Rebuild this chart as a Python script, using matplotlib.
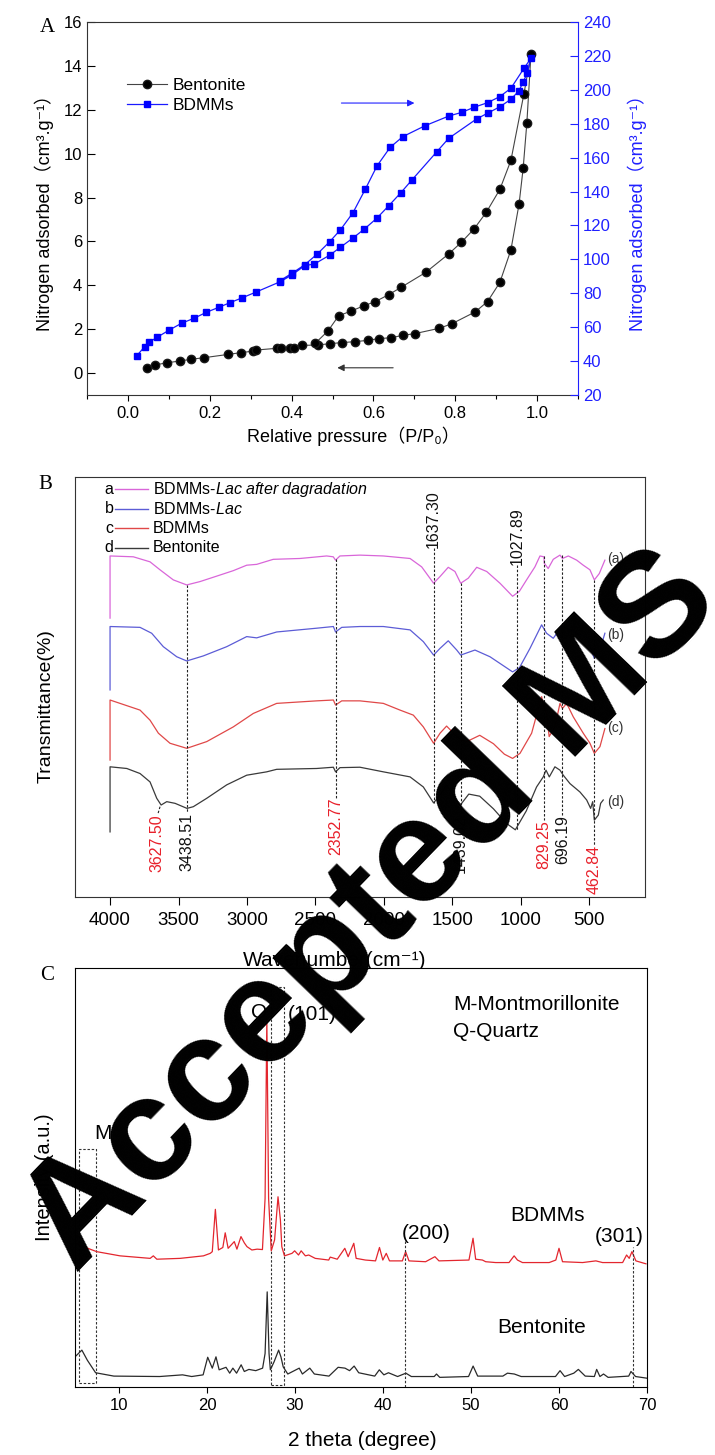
import numpy as np
import matplotlib
matplotlib.use('Agg')
import matplotlib.pyplot as plt
from matplotlib.patches import Rectangle
from matplotlib.ticker import MultipleLocator, FormatStrFormatter

plt.rcParams['font.family'] = ['Liberation Sans', 'Noto Sans CJK SC', 'DejaVu Sans']
plt.rcParams['mathtext.fontset'] = 'custom'
plt.rcParams['mathtext.rm'] = 'Liberation Sans'
plt.rcParams['mathtext.it'] = 'Liberation Sans:italic'

# ---------------- A: N2 adsorption / desorption isotherms ----------------
bent_ads_p = [0.046, 0.066, 0.096, 0.127, 0.155, 0.186, 0.245, 0.276, 0.306, 0.314, 0.365, 0.375,
              0.397, 0.405, 0.426, 0.464, 0.494, 0.524, 0.554, 0.586, 0.613, 0.643, 0.672, 0.702,
              0.761, 0.792, 0.849, 0.879, 0.909, 0.936, 0.956, 0.966, 0.975, 0.985]
bent_ads_v = [0.24, 0.37, 0.47, 0.55, 0.63, 0.70, 0.85, 0.93, 1.00, 1.05, 1.13, 1.13,
              1.16, 1.16, 1.26, 1.28, 1.34, 1.39, 1.43, 1.49, 1.57, 1.61, 1.72, 1.80,
              2.04, 2.25, 2.79, 3.26, 4.13, 5.61, 7.71, 9.34, 11.40, 14.52]
bent_des_p = [0.968, 0.936, 0.909, 0.876, 0.846, 0.815, 0.784, 0.728, 0.667, 0.637, 0.605,
              0.576, 0.546, 0.515, 0.489, 0.458]
bent_des_v = [12.74, 9.69, 8.37, 7.33, 6.57, 5.96, 5.43, 4.59, 3.90, 3.57, 3.26,
              3.06, 2.83, 2.61, 1.92, 1.36]

bdmm_ads_p = [0.021, 0.041, 0.052, 0.071, 0.101, 0.131, 0.161, 0.192, 0.222, 0.249, 0.280, 0.312,
              0.372, 0.401, 0.432, 0.456, 0.494, 0.519, 0.549, 0.578, 0.608, 0.637, 0.667, 0.694,
              0.755, 0.784, 0.852, 0.879, 0.909, 0.936, 0.956, 0.966, 0.976, 0.985]
bdmm_ads_v = [43.0, 48.5, 51.1, 54.0, 58.3, 62.3, 65.2, 68.8, 71.7, 74.4, 77.4, 80.6,
              86.8, 90.8, 96.3, 97.3, 102.6, 107.1, 112.4, 117.9, 124.2, 131.5, 139.3, 146.8,
              163.5, 171.4, 182.8, 186.2, 190.0, 194.4, 199.5, 204.8, 209.7, 218.6]
bdmm_des_p = [0.968, 0.936, 0.909, 0.879, 0.846, 0.816, 0.785, 0.726, 0.672, 0.641, 0.609,
              0.580, 0.550, 0.519, 0.493, 0.463, 0.432, 0.401, 0.372]
bdmm_des_v = [212.7, 200.9, 196.0, 192.4, 189.7, 186.7, 184.6, 178.8, 172.4, 166.1, 155.2,
              141.3, 127.5, 117.3, 110.4, 103.2, 96.8, 91.8, 87.5]

# ---------------- B: FTIR spectra (offset, arbitrary units) ----------------
ftir_a_wn = [4000, 4000, 3830, 3708, 3635, 3538, 3440, 3343, 3221, 3100, 3002, 2929, 2808, 2613,
             2418, 2370, 2353, 2321, 2175, 2004, 1809, 1724, 1637, 1590, 1530, 1481, 1439, 1384,
             1322, 1249, 1152, 1060, 1010, 958, 897, 860, 831, 829, 800, 763, 714, 696, 653,
             592, 544, 495, 463, 427, 386]
ftir_a_t = [66.4, 81.2, 81.0, 79.8, 77.9, 75.5, 74.3, 75.1, 76.4, 77.7, 79.0, 79.2, 80.4, 80.6,
            81.2, 81.0, 80.2, 81.2, 81.4, 81.2, 80.6, 78.6, 74.7, 76.3, 78.5, 77.5, 74.7, 75.9,
            78.5, 77.5, 74.7, 71.6, 72.8, 75.5, 78.6, 81.2, 81.0, 79.5, 78.2, 80.4, 81.4, 80.6, 81.2,
            80.2, 79.0, 77.9, 75.5, 77.0, 80.2]

ftir_b_wn = [4000, 4000, 3781, 3696, 3611, 3513, 3440, 3319, 3148, 3002, 2929, 2783, 2491, 2369,
             2353, 2308, 2175, 2004, 1809, 1712, 1637, 1590, 1530, 1468, 1439, 1335, 1225, 1060,
             1010, 933, 848, 812, 763, 702, 665, 592, 520, 463, 422, 386]
ftir_b_t = [49.3, 64.4, 64.2, 62.8, 59.6, 57.2, 56.2, 57.4, 59.6, 62.0, 61.7, 63.1, 64.0, 64.4,
            63.1, 64.2, 64.4, 64.4, 63.6, 60.8, 57.6, 59.2, 61.0, 58.8, 57.6, 58.8, 57.2, 53.6,
            54.6, 59.2, 64.8, 62.8, 61.6, 64.4, 64.0, 62.8, 62.0, 56.8, 58.8, 62.8]

ftir_c_wn = [4000, 4000, 3927, 3781, 3708, 3647, 3562, 3440, 3294, 3100, 2954, 2783, 2491, 2369,
             2353, 2308, 2175, 2004, 1882, 1785, 1712, 1637, 1590, 1542, 1468, 1439, 1395, 1300,
             1200, 1120, 1060, 1006, 921, 848, 829, 812, 793, 751, 714, 696, 665, 617, 544, 495,
             463, 422, 386]
ftir_c_t = [32.6, 46.9, 46.1, 44.5, 42.1, 39.0, 36.6, 35.4, 37.0, 40.5, 43.7, 46.1, 46.7, 46.9,
            45.7, 46.7, 46.7, 46.1, 44.5, 43.3, 40.5, 36.6, 39.0, 40.7, 38.2, 37.4, 37.0, 38.5,
            36.5, 34.0, 33.0, 34.2, 39.0, 47.7, 45.0, 43.7, 38.2, 40.5, 46.1, 44.9, 46.1, 42.9,
            39.0, 36.6, 34.2, 35.8, 40.1]

ftir_d_wn = [4000, 4000, 3878, 3781, 3708, 3659, 3627, 3586, 3525, 3438, 3392, 3294, 3148, 3002,
             2856, 2783, 2491, 2369, 2353, 2321, 2175, 2004, 1809, 1712, 1637, 1590, 1542, 1480,
             1439, 1380, 1300, 1200, 1104, 1040, 960, 885, 836, 816, 792, 751, 714, 690, 641,
             568, 519, 490, 475, 463, 434, 417, 398]
ftir_d_t = [15.5, 31.0, 30.6, 29.4, 27.4, 23.5, 21.9, 22.7, 22.3, 21.1, 21.5, 23.5, 26.7, 29.0,
            29.8, 30.4, 30.6, 30.9, 29.8, 30.8, 30.9, 29.8, 28.6, 26.2, 22.4, 24.3, 26.7, 23.5,
            22.0, 24.5, 24.0, 21.0, 17.5, 16.0, 20.5, 26.2, 28.6, 30.2, 28.6, 31.0, 30.2, 29.0, 27.0,
            25.0, 23.1, 21.1, 22.7, 18.3, 19.5, 22.3, 23.1]

ftir_peaks = [3627.50, 3438.51, 2352.77, 1637.30, 1439.02, 1027.89, 829.25, 696.19, 462.84]
ftir_peak_colors = ['#e8202a', '#111111', '#e8202a', '#111111', '#111111', '#111111',
                    '#e8202a', '#111111', '#e8202a']

# ---------------- C: XRD patterns ----------------
xrd_bdmm_2t = [5.19, 5.95, 7.47, 10.12, 13.54, 13.9, 14.3, 16.95, 19.6, 20.37, 20.6, 20.95, 21.3,
               21.8, 22.07, 22.4, 23.1, 23.4, 23.86, 24.24, 24.54, 25.1, 25.7, 26.3, 26.6, 26.8,
               27.0, 27.3, 27.68, 28.07, 28.34, 28.5, 28.8, 29.66, 29.96, 30.4, 30.7, 31.18, 31.56,
               32.3, 33.83, 34.0, 34.8, 35.66, 36.04, 36.68, 36.95, 38.0, 39.15, 39.6, 39.98, 40.37,
               40.74, 42.2, 42.57, 42.95, 44.84, 45.9, 46.36, 49.77, 50.23, 50.53, 51.3, 51.67,
               52.8, 54.32, 54.9, 55.28, 55.85, 58.88, 59.64, 60.0, 60.4, 62.68, 64.19, 64.95,
               67.23, 67.68, 67.98, 68.29, 68.74, 69.88]
xrd_bdmm_i = [34.3, 33.5, 32.3, 31.3, 30.7, 31.3, 30.5, 30.7, 31.3, 31.9, 32.3, 42.4, 32.7,
              33.3, 36.8, 33.1, 34.7, 32.9, 35.9, 34.4, 33.5, 32.7, 32.9, 32.8, 45.0, 88.0,
              45.0, 32.5, 35.1, 45.4, 39.9, 33.5, 31.3, 31.9, 32.5, 31.5, 32.5, 31.3, 31.5,
              30.7, 30.3, 31.0, 30.5, 33.1, 31.1, 34.3, 30.7, 30.3, 30.1, 33.3, 30.3, 31.9,
              30.1, 30.1, 32.3, 30.1, 29.9, 31.1, 30.1, 30.3, 35.5, 30.5, 30.3, 29.9,
              29.7, 29.7, 31.3, 30.3, 29.7, 29.7, 30.3, 33.1, 29.9, 29.7, 30.1, 29.7,
              29.7, 31.5, 30.7, 32.3, 30.1, 29.4]

xrd_bent_2t = [5.0, 5.78, 6.4, 7.34, 9.42, 14.62, 17.22, 18.26, 19.56, 20.08, 20.6, 21.02, 21.38,
               22.16, 22.58, 22.94, 23.36, 23.88, 24.24, 24.76, 25.54, 26.32, 26.6, 26.84, 27.05,
               27.2, 27.62, 28.14, 28.4, 28.66, 29.18, 30.48, 30.84, 31.68, 32.2, 33.86, 34.9,
               35.68, 36.2, 36.72, 37.24, 39.06, 39.58, 40.1, 40.62, 41.66, 42.6, 43.22, 45.82,
               46.08, 46.45, 49.72, 50.24, 50.76, 53.62, 54.14, 54.92, 55.7, 59.6, 60.12, 60.64,
               61.68, 62.2, 62.98, 64.02, 64.28, 64.65, 65.06, 65.58, 67.92, 68.18, 68.7, 70.0]
xrd_bent_i = [7.2, 8.8, 6.4, 3.4, 2.6, 2.5, 2.9, 2.5, 2.9, 7.1, 4.5, 7.2, 4.1,
              4.7, 3.3, 4.5, 3.3, 5.3, 3.7, 4.2, 3.9, 4.5, 8.0, 22.7, 8.0,
              4.1, 6.0, 8.8, 7.2, 4.8, 3.1, 4.5, 3.1, 4.5, 3.1, 2.6, 4.7,
              4.5, 3.9, 5.0, 3.4, 2.6, 4.1, 2.9, 3.4, 2.5, 3.3, 2.5, 2.5,
              3.1, 2.3, 2.5, 5.0, 2.6, 2.6, 3.3, 3.1, 2.5, 2.5, 3.9, 2.5,
              3.3, 4.2, 2.6, 2.5, 4.2, 2.5, 3.1, 2.3, 2.6, 3.7, 2.5, 2.1]

fig = plt.figure(figsize=(7.15, 14.55), dpi=100)
dash = (0, (2.2, 1.6))

# ======================= panel A =======================
axA = fig.add_axes([87 / 715, 1 - 395 / 1455, 491 / 715, 373 / 1455])
axA2 = axA.twinx()

l1, = axA.plot(bent_ads_p + bent_des_p, bent_ads_v + bent_des_v, '-o', color='#444444', lw=0.8,
               ms=6.0, mfc='black', mec='#1a1a1a', label='Bentonite')
l2, = axA2.plot(bdmm_ads_p + bdmm_des_p, bdmm_ads_v + bdmm_des_v, '-s', color='#1a1aff', lw=0.9,
                ms=5.0, mfc='#0000ff', mec='#0000ff', label='BDMMs')

axA.set_xlim(-0.1, 1.1)
axA.set_ylim(-1, 16)
axA2.set_ylim(20, 240)
axA.xaxis.set_major_locator(MultipleLocator(0.2))
axA.xaxis.set_minor_locator(MultipleLocator(0.1))
axA.xaxis.set_major_formatter(FormatStrFormatter('%.1f'))
axA.yaxis.set_major_locator(MultipleLocator(2))
axA2.yaxis.set_major_locator(MultipleLocator(20))
axA.tick_params(axis='x', which='major', direction='out', length=4, width=0.8, labelsize=12, pad=4)
axA.tick_params(axis='x', which='minor', direction='out', length=3, width=0.8)
axA.tick_params(axis='y', direction='in', length=6, width=0.8, labelsize=12, right=False)
axA2.tick_params(axis='y', direction='in', length=6, width=0.8, labelsize=12, colors='#2020ff')
axA.spines['right'].set_visible(False)
for s in ['top', 'left', 'bottom']:
    axA.spines[s].set_color('#333333')
    axA2.spines[s].set_visible(False)
axA2.spines['right'].set_color('#2020ff')

axA.set_ylabel('Nitrogen adsorbed（cm³.g⁻¹）', fontsize=13)
axA.yaxis.set_label_coords(-0.068, 0.5)
axA2.set_ylabel('Nitrogen adsorbed（cm³.g⁻¹）', fontsize=13, color='#2020ff', rotation=90)
axA2.yaxis.set_label_coords(1.10, 0.5)
axA.set_xlabel('Relative pressure（P/P₀）', fontsize=13)
axA.xaxis.set_label_coords(0.542, -0.085)

# arrows telling which axis each isotherm belongs to
axA2.annotate('', xy=(0.707, 192.2), xytext=(0.515, 192.2),
              arrowprops=dict(arrowstyle='-|>', color='#2020ff', lw=0.8, mutation_scale=10))
axA.annotate('', xy=(0.505, 0.24), xytext=(0.655, 0.24),
             arrowprops=dict(arrowstyle='-|>', color='#333333', lw=0.8, mutation_scale=10))

axA2.legend(handles=[l1, l2], loc='upper left', bbox_to_anchor=(0.081, 0.85), frameon=False,
            fontsize=12.5, handlelength=2.3, handletextpad=0.35, labelspacing=0.3,
            borderpad=0, borderaxespad=0)

fig.text(47 / 715, 1 - 27 / 1455, 'A', family='Liberation Serif', fontsize=15, ha='center', va='center')

# ======================= panel B =======================
axB = fig.add_axes([75 / 715, 1 - 897 / 1455, 570 / 715, 420 / 1455])
ftir_curves = [(ftir_a_wn, ftir_a_t, '#d966d9'), (ftir_b_wn, ftir_b_t, '#5c5cd6'),
               (ftir_c_wn, ftir_c_t, '#e04848'), (ftir_d_wn, ftir_d_t, '#3a3a3a')]
for wn, t, col in ftir_curves:
    axB.plot(wn, t, color=col, lw=0.9)

axB.set_xlim(4256, 93)
axB.set_ylim(0, 100)
axB.set_xticks(np.arange(4000, 499, -500))
axB.set_yticks([])
axB.tick_params(axis='x', direction='out', length=6, width=0.8, labelsize=13.5, pad=5)
for s in axB.spines.values():
    s.set_color('#333333')

axB.set_xlabel('Wavenumber(cm⁻¹)', fontsize=15)
axB.xaxis.set_label_coords(0.456, -0.128)
axB.set_ylabel('Transmittance(%)', fontsize=14)
axB.yaxis.set_label_coords(-0.035, 0.455)

# dashed guides (from, to) and label anchors for each assigned band
peak_line_span = [(21.5, 19.6), (74.3, 20.0), (80.5, 23.6), (83.1, 22.4), (74.8, 19.5),
                  (79.0, 16.0), (81.2, 18.3), (81.4, 19.5), (75.5, 12.4)]
peak_label_above = [False, False, False, True, False, True, False, False, False]
for wn, col, (y0, y1), above in zip(ftir_peaks, ftir_peak_colors, peak_line_span, peak_label_above):
    if wn == 3627.50:
        axB.plot([3635, 3652], [y0, y1], ls=dash, color='#222222', lw=0.8)
        tx = 3660
    else:
        axB.plot([wn, wn], [y0, y1], ls=dash, color='#222222', lw=0.8)
        tx = wn
    if above:
        axB.text(tx, y0, '%.2f' % wn, rotation=90, ha='center', va='bottom', fontsize=11.5, color=col)
    else:
        axB.text(tx, y1, '%.2f' % wn, rotation=90, ha='center', va='top', fontsize=11.5, color=col)

for lab, y in zip(['(a)', '(b)', '(c)', '(d)'], [80.5, 62.4, 40.2, 22.7]):
    axB.text(370, y, lab, fontsize=10, ha='left', va='center', color='#333333')

legend_rows = [('a', r'BDMMs-$\mathit{Lac\ after\ dagradation}$', '#d966d9'),
               ('b', r'BDMMs-$\mathit{Lac}$', '#5c5cd6'),
               ('c', 'BDMMs', '#e04848'),
               ('d', 'Bentonite', '#3a3a3a')]
for i, (letter, text, col) in enumerate(legend_rows):
    y = 0.971 - i * 0.0465
    axB.text(0.060, y, letter, transform=axB.transAxes, ha='center', va='center', fontsize=11.5)
    axB.plot([0.070, 0.128], [y, y], transform=axB.transAxes, color=col, lw=1)
    axB.text(0.137, y, text, transform=axB.transAxes, ha='left', va='center', fontsize=11.5)

fig.text(45 / 715, 1 - 485 / 1455, 'B', family='Liberation Serif', fontsize=15, ha='center', va='center')

# ======================= panel C =======================
axC = fig.add_axes([75 / 715, 1 - 1387 / 1455, 572 / 715, 419 / 1455])
axC.plot(xrd_bdmm_2t, xrd_bdmm_i, color='#e3262e', lw=0.9)
axC.plot(xrd_bent_2t, xrd_bent_i, color='#2a2a2a', lw=0.9)
axC.set_xlim(5, 70)
axC.set_ylim(0, 100)
axC.set_xticks(np.arange(10, 71, 10))
axC.set_yticks([])
axC.tick_params(axis='x', direction='out', length=4, width=0.8, labelsize=12, pad=4)
axC.set_xlabel('2 theta (degree)', fontsize=15)
axC.xaxis.set_label_coords(0.503, -0.105)
axC.set_ylabel('Intensity (a.u.)', fontsize=14.5)
axC.yaxis.set_label_coords(-0.037, 0.5)

axC.add_patch(Rectangle((5.4, 0.9), 1.95, 55.8, fill=False, ls=dash, lw=0.8, ec='#333333'))
axC.add_patch(Rectangle((27.25, 0.5), 1.55, 95.0, fill=False, ls=dash, lw=0.8, ec='#333333'))
axC.plot([42.55, 42.55], [0, 35.0], ls=dash, color='#333333', lw=0.8)
axC.plot([68.4, 68.4], [0, 33.4], ls=dash, color='#333333', lw=0.8)

axC.text(8.2, 60.6, 'M', fontsize=15, ha='center', va='center')
axC.text(25.87, 89.3, 'Q', fontsize=15, ha='center', va='center')
axC.text(32.0, 89.0, '(101)', fontsize=15, ha='center', va='center')
axC.text(44.96, 36.6, '(200)', fontsize=15, ha='center', va='center')
axC.text(66.8, 35.8, '(301)', fontsize=15, ha='center', va='center')
axC.text(58.7, 41.0, 'BDMMs', fontsize=15, ha='center', va='center')
axC.text(58.05, 14.1, 'Bentonite', fontsize=15, ha='center', va='center')
axC.text(48.0, 91.2, 'M-Montmorillonite', fontsize=15, ha='left', va='center')
axC.text(48.0, 84.8, 'Q-Quartz', fontsize=15, ha='left', va='center')

fig.text(47 / 715, 1 - 976 / 1455, 'C', family='Liberation Serif', fontsize=15, ha='center', va='center')

# manuscript stamp across the figure
fig.text(372 / 715, 1 - 912 / 1455, 'Accepted MS', rotation=46, rotation_mode='anchor',
         ha='center', va='center', fontsize=107, fontweight='bold', color='black', zorder=10)

fig.savefig('out.png', dpi=100)
